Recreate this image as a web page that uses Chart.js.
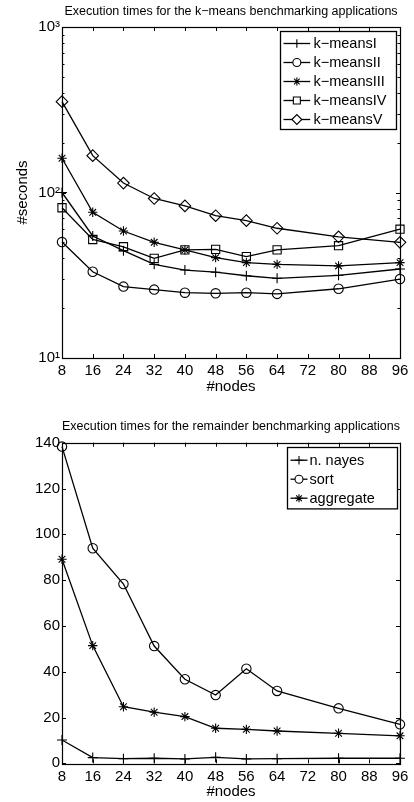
<!DOCTYPE html>
<html>
<head>
<meta charset="utf-8">
<script src="https://cdn.jsdelivr.net/npm/chart.js@4.4.1/dist/chart.umd.min.js"></script>
<style>
  html, body { margin: 0; padding: 0; background: #fff; }
  #wrap { position: relative; width: 414px; height: 802px; }
  #c1 { position: absolute; left: 0; top: 0; }
  #c2 { position: absolute; left: 0; top: 400px; }
</style>
</head>
<body>
<div id="wrap">
  <canvas id="c1" width="414" height="400"></canvas>
  <canvas id="c2" width="414" height="402"></canvas>
</div>
<script>
// x positions (#nodes) shared by every series
const NODES = [8, 16, 24, 32, 40, 48, 56, 64, 80, 96]
const X_TICKS = [8, 16, 24, 32, 40, 48, 56, 64, 72, 80, 88, 96]

// top chart: k-means runs, seconds (log axis)
const KMEANS_I   = [100, 54.6, 44.5, 36.8, 34, 33, 31.4, 30.3, 31.6, 34.5]
const KMEANS_II  = [50.2, 33.2, 27, 25.9, 24.8, 24.6, 24.8, 24.4, 26.2, 30]
const KMEANS_III = [161, 75.9, 58.5, 50, 45, 40.4, 37.7, 36.8, 36, 37.7]
const KMEANS_IV  = [80.9, 52, 47, 40, 45, 45.3, 41, 45, 47.7, 60]
const KMEANS_V   = [354, 167, 114, 92, 83, 72.4, 67.6, 60.8, 54, 50]
const LOG_TICKS = [10, 100, 1000]
const LOG_LABELS = { 10: '10¹', 100: '10²', 1000: '10³' }

// bottom chart: remaining apps, seconds
const NBAYES    = [10.2, 2.5, 2, 2.2, 1.9, 2.6, 1.9, 2, 2.2, 2.2]
const SORT      = [138.3, 93.9, 78.3, 51.2, 36.7, 29.8, 41.3, 31.6, 24, 17]
const AGGREGATE = [89.1, 51.4, 24.7, 22.3, 20.4, 15.3, 14.8, 14.1, 13.1, 12]
const LIN_TICKS = [0, 20, 40, 60, 80, 100, 120, 140]

const FONT = "'Liberation Sans', Arial, Helvetica, sans-serif"
const INK = '#000'

const pts = arr => NODES.map((n, i) => ({ x: n, y: arr[i] }))

function series(label, arr, pointStyle, radius) {
  return {
    label,
    data: pts(arr),
    borderColor: INK,
    borderWidth: 1.3,
    pointStyle,
    pointRadius: radius,
    pointBorderColor: INK,
    pointBorderWidth: 1.1,
    pointBackgroundColor: 'rgba(0,0,0,0)',
    tension: 0,
    clip: false,
  }
}

// box with inward ticks on all four sides (matlab look)
const frame = {
  id: 'frame',
  beforeDatasetsDraw(chart) {
    const { ctx, chartArea: a, scales: { x, y } } = chart
    const r = v => Math.round(v) + 0.5
    ctx.save()
    ctx.strokeStyle = INK
    ctx.lineWidth = 1
    ctx.beginPath()
    x.ticks.forEach(t => {
      const px = r(x.getPixelForValue(t.value))
      ctx.moveTo(px, a.bottom); ctx.lineTo(px, a.bottom - 4)
      ctx.moveTo(px, a.top); ctx.lineTo(px, a.top + 4)
    })
    y.ticks.forEach(t => {
      const py = r(y.getPixelForValue(t.value))
      ctx.moveTo(a.left, py); ctx.lineTo(a.left + 4, py)
      ctx.moveTo(a.right, py); ctx.lineTo(a.right - 4, py)
    })
    if (y.type === 'logarithmic') {
      for (let d = y.min; d < y.max; d *= 10) {
        for (let m = 2; m < 10; m++) {
          const py = r(y.getPixelForValue(d * m))
          ctx.moveTo(a.left, py); ctx.lineTo(a.left + 2.5, py)
          ctx.moveTo(a.right, py); ctx.lineTo(a.right - 2.5, py)
        }
      }
    }
    ctx.stroke()
    ctx.lineWidth = 1.2
    ctx.strokeRect(r(a.left), r(a.top), Math.round(a.right - a.left), Math.round(a.bottom - a.top))
    ctx.restore()
  }
}

// legend box in the upper right corner: line + marker + label
const boxLegend = {
  id: 'boxLegend',
  afterDatasetsDraw(chart, args, o) {
    const { ctx, chartArea: a } = chart
    const sets = chart.data.datasets
    const left = Math.round(a.right - o.insetRight - o.width) + 0.5
    const top = Math.round(a.top + o.insetTop) + 0.5
    const h = o.firstRow * 2 + o.rowH * (sets.length - 1) - 2
    ctx.save()
    ctx.fillStyle = '#fff'
    ctx.fillRect(left, top, o.width, h)
    ctx.strokeStyle = INK
    ctx.lineWidth = 1.3
    ctx.strokeRect(left, top, o.width, h)
    ctx.font = `14.5px ${FONT}`
    ctx.textBaseline = 'middle'
    sets.forEach((ds, i) => {
      const cy = top + o.firstRow + o.rowH * i
      const x0 = left + o.lineFrom, x1 = left + o.lineTo
      ctx.strokeStyle = INK
      ctx.lineWidth = 1.3
      ctx.beginPath()
      ctx.moveTo(x0, cy); ctx.lineTo(x1, cy)
      ctx.stroke()
      ctx.fillStyle = '#fff'
      ctx.lineWidth = 1.1
      Chart.helpers.drawPoint(ctx, { pointStyle: ds.pointStyle, radius: ds.pointRadius * 0.85, borderWidth: 1.1, rotation: 0 }, (x0 + x1) / 2, cy)
      ctx.fillStyle = INK
      ctx.fillText(ds.label, left + o.textX, cy + 0.5)
    })
    ctx.restore()
  }
}

function xAxis(height, labelPad, titlePad) {
  return {
    type: 'linear',
    min: 8,
    max: 96,
    afterBuildTicks: s => { s.ticks = X_TICKS.map(v => ({ value: v })) },
    afterFit: s => { s.height = height },
    grid: { display: false, drawTicks: false },
    border: { display: false },
    ticks: { color: INK, font: { family: FONT, size: 15 }, padding: labelPad, maxRotation: 0, autoSkip: false },
    title: { display: true, text: '#nodes', color: INK, font: { family: FONT, size: 15 }, padding: { top: 0, bottom: titlePad } },
  }
}

function titleOpt(text, padTop, padBottom) {
  return {
    display: true,
    text,
    color: INK,
    fullSize: false,
    font: { family: FONT, size: 12.5, weight: 'normal' },
    padding: { top: padTop, bottom: padBottom },
  }
}

new Chart(document.getElementById('c1'), {
  type: 'line',
  data: {
    datasets: [
      series('k\u2212meansI', KMEANS_I, 'cross', 5),
      series('k\u2212meansII', KMEANS_II, 'circle', 4.7),
      series('k\u2212meansIII', KMEANS_III, 'star', 4.7),
      series('k\u2212meansIV', KMEANS_IV, 'rect', 5.8),
      series('k\u2212meansV', KMEANS_V, 'rectRot', 5.8),
    ]
  },
  options: {
    responsive: false,
    animation: false,
    devicePixelRatio: 1,
    layout: { padding: { left: 0, right: 14, top: 0, bottom: 0 } },
    plugins: {
      legend: { display: false },
      tooltip: { enabled: false },
      title: titleOpt('Execution times for the k\u2212means benchmarking applications', 4.5, 7.5),
      boxLegend: { insetRight: 3.7, insetTop: 4.3, width: 116, rowH: 19, firstRow: 12, lineFrom: 3, lineTo: 29.7, textX: 33 },
    },
    scales: {
      x: xAxis(42, 4, 4.3),
      y: {
        type: 'logarithmic',
        min: 10,
        max: 1000,
        afterBuildTicks: s => { s.ticks = LOG_TICKS.map(v => ({ value: v })) },
        afterFit: s => { s.width = 62 },
        grid: { display: false, drawTicks: false },
        border: { display: false },
        ticks: { color: INK, font: { family: FONT, size: 15 }, padding: 2, callback: v => LOG_LABELS[v] },
        title: { display: true, text: '#seconds', color: INK, font: { family: FONT, size: 15 }, padding: { top: 14, bottom: 0 } },
      }
    }
  },
  plugins: [frame, boxLegend]
})

new Chart(document.getElementById('c2'), {
  type: 'line',
  data: {
    datasets: [
      series('n. nayes', NBAYES, 'cross', 5),
      series('sort', SORT, 'circle', 4.7),
      series('aggregate', AGGREGATE, 'star', 4.7),
    ]
  },
  options: {
    responsive: false,
    animation: false,
    devicePixelRatio: 1,
    layout: { padding: { left: 0, right: 14, top: 0, bottom: 0 } },
    plugins: {
      legend: { display: false },
      tooltip: { enabled: false },
      title: titleOpt('Execution times for the remainder benchmarking applications', 19.5, 8.2),
      boxLegend: { insetRight: 3, insetTop: 4, width: 110, rowH: 19, firstRow: 12.7, lineFrom: 3, lineTo: 20, textX: 22 },
    },
    scales: {
      x: xAxis(38.7, 4.4, 1),
      y: {
        type: 'linear',
        min: 0,
        max: 140,
        afterBuildTicks: s => { s.ticks = LIN_TICKS.map(v => ({ value: v })) },
        afterFit: s => { s.width = 62 },
        grid: { display: false, drawTicks: false },
        border: { display: false },
        ticks: { color: INK, font: { family: FONT, size: 15 }, padding: 2 },
      }
    }
  },
  plugins: [frame, boxLegend]
})
</script>
</body>
</html>
